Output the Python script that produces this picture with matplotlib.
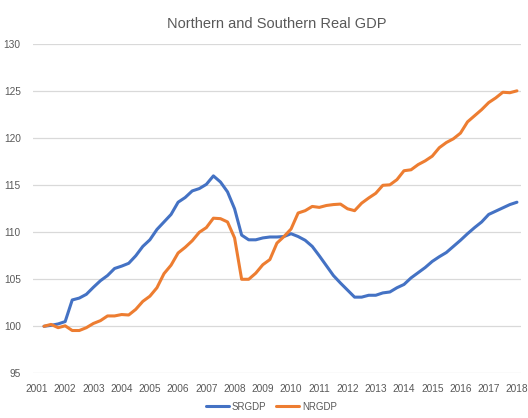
import matplotlib
matplotlib.use("Agg")
import matplotlib.pyplot as plt
import numpy as np

plt.rcParams['font.family'] = ['Liberation Sans', 'DejaVu Sans']

# quarterly index values, 2001Q2 .. 2018Q1
srgdp = [100.0, 100.1, 100.25, 100.5, 102.8, 103.0, 103.4, 104.15, 104.85, 105.4,
         106.15, 106.4, 106.7, 107.5, 108.5, 109.2, 110.3, 111.1, 111.9, 113.2,
         113.7, 114.4, 114.65, 115.1, 116.0, 115.35, 114.3, 112.5, 109.7, 109.2,
         109.2, 109.4, 109.5, 109.5, 109.55, 109.85, 109.55, 109.15, 108.5, 107.5,
         106.45, 105.4, 104.6, 103.85, 103.1, 103.1, 103.3, 103.3, 103.55, 103.65,
         104.1, 104.45, 105.15, 105.7, 106.25, 106.9, 107.4, 107.85, 108.5, 109.15,
         109.85, 110.5, 111.1, 111.9, 112.25, 112.6, 112.95, 113.2]
nrgdp = [100.0, 100.2, 99.85, 100.05, 99.55, 99.55, 99.85, 100.3, 100.6, 101.1,
         101.1, 101.25, 101.2, 101.8, 102.65, 103.2, 104.1, 105.6, 106.5, 107.8,
         108.4, 109.1, 110.0, 110.5, 111.5, 111.45, 111.1, 109.4, 105.0, 105.0,
         105.65, 106.55, 107.1, 108.85, 109.55, 110.35, 112.05, 112.3, 112.75, 112.65,
         112.85, 112.95, 113.0, 112.5, 112.3, 113.1, 113.65, 114.15, 115.0, 115.05,
         115.6, 116.55, 116.65, 117.2, 117.6, 118.1, 119.0, 119.55, 119.95, 120.55,
         121.75, 122.4, 123.05, 123.8, 124.3, 124.9, 124.85, 125.05]
quarters = 2001.25 + 0.25 * np.arange(len(srgdp))
years = list(range(2001, 2019))
yticks = [95, 100, 105, 110, 115, 120, 125, 130]

fig = plt.figure(figsize=(5.28, 4.18), dpi=100)
ax = fig.add_axes([0.063, 0.107, 0.923, 0.787])

ax.plot(quarters, srgdp, color='#4472C4', lw=2.2, label='SRGDP', solid_capstyle='round')
ax.plot(quarters, nrgdp, color='#ED7D31', lw=2.2, label='NRGDP', solid_capstyle='round')

ax.set_xlim(2000.87, 2018.13)
ax.set_ylim(95, 130)
ax.set_xticks(years)
ax.set_xticklabels([str(y) for y in years])
ax.set_yticks(yticks)
ax.grid(axis='y', color='#D9D9D9', lw=0.9)
ax.set_axisbelow(True)
for s in ax.spines.values():
    s.set_visible(False)
ax.tick_params(length=0, labelsize=7.3, colors='#595959')
ax.tick_params(axis='y', pad=9)
ax.tick_params(axis='x', pad=8)

ax.set_title('Northern and Southern Real GDP', fontsize=10.5, color='#595959', pad=12)

fig.legend(loc='center', bbox_to_anchor=(0.514, 0.027), ncol=2, frameon=False,
           fontsize=7, handlelength=2.4, columnspacing=1.0, handletextpad=0.3,
           labelcolor='#595959')

fig.savefig('out.png', dpi=100)
